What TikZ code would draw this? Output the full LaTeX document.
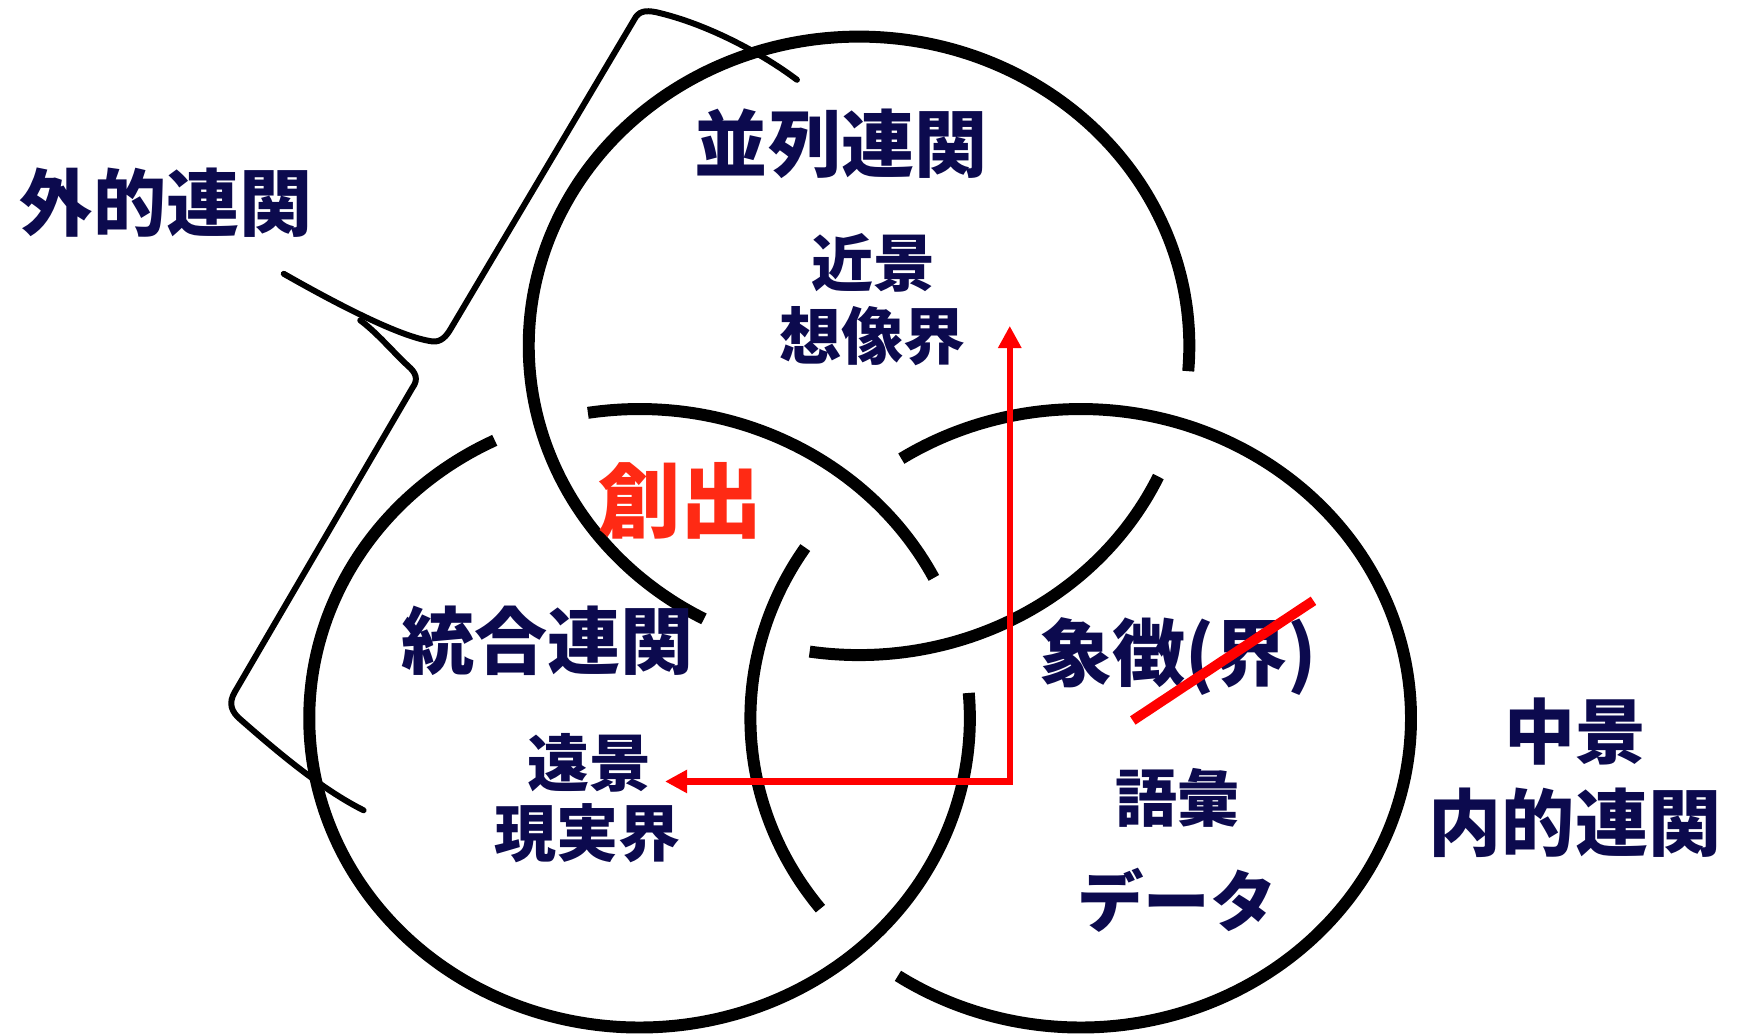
\documentclass[tikz,border=0pt]{standalone}
\usepackage{fontspec}
\newfontfamily\jp{Noto Sans CJK JP}
\usetikzlibrary{arrows.meta}
\definecolor{navy}{RGB}{12,10,78}
\definecolor{redtxt}{RGB}{255,42,20}
\begin{document}
\begin{tikzpicture}[x=0.5pt,y=-0.5pt,
  ring/.style={line width=5.4pt,line cap=butt},
  bracket/.style={line width=2.7pt,line cap=round,line join=round},
  lbl/.style={font={\jp\bfseries\fontsize{#1}{#1}\selectfont},text=navy,inner sep=0pt},
  redlbl/.style={font={\jp\bfseries\fontsize{#1}{#1}\selectfont},text=redtxt,inner sep=0pt},
  redline/.style={draw=red,line width=2.9pt},
]
\useasboundingbox[fill=white] (0,0) rectangle (1568,934);
% top ring A
\draw[ring] plot[domain=-4.7:242,samples=150,smooth] ({775+298*cos(\x)},{312-279*sin(\x)});
\draw[ring] plot[domain=261.4:335,samples=60,smooth] ({775+298*cos(\x)},{312-279*sin(\x)});
% lower-left ring B
\draw[ring] plot[domain=27:99,samples=60,smooth] ({577+298*cos(\x)},{648-279*sin(\x)});
\draw[ring] plot[domain=116:364.7,samples=150,smooth] ({577+298*cos(\x)},{648-279*sin(\x)});
% lower-right ring C
\draw[ring] plot[domain=146.5:218,samples=60,smooth] ({975+298*cos(\x)},{648-279*sin(\x)});
\draw[ring] plot[domain=236.4:482.9,samples=150,smooth] ({975+298*cos(\x)},{648-279*sin(\x)});
% bracket
\coordinate (bp) at (256,247);
\coordinate (bf) at (325,289);
\coordinate (bt) at (719,72);
\coordinate (bb) at (328,731);
\draw[bracket] (bt) .. controls (690,50) and (640,22) .. (592,11)
  .. controls (582,9) and (576,10) .. (572,18) -- (407,296)
  .. controls (403,303) and (398,309) .. (390,308)
  .. controls (360,304) and (300,272) .. (bp);
\draw[bracket] (bb) .. controls (290,712) and (250,678) .. (218,650)
  .. controls (208,642) and (206,634) .. (212,624) -- (372,350)
  .. controls (378,342) and (375,336) .. (368,330)
  .. controls (355,318) and (340,300) .. (bf);
% labels
\node[lbl=33pt] (gaiteki) at (150,183) {外的連関};
\node[lbl=33pt] (heiretsu) at (759,130) {並列連関};
\node[lbl=28pt] (kinkei) at (788,237) {近景};
\node[lbl=28pt] (souzou) at (787,303) {想像界};
\node[redlbl=37pt] (soushutsu) at (614,452) {創出};
\node[lbl=33pt] (tougou) at (494,578) {統合連関};
\node[lbl=28pt] (enkei) at (532,688) {遠景};
\node[lbl=28pt] (genjitsu) at (530,752) {現実界};
\node[lbl=33pt] (shouchou) at (1063,592) {象徴(界)};
\node[lbl=28pt] (goi) at (1062,720) {語彙};
\node[lbl=30pt] (data) at (1062,812) {データ};
\node[lbl=32pt] (chukei) at (1421,660) {中景};
\node[lbl=33pt] (naiteki) at (1421,742) {内的連関};
% red arrows
\coordinate (corner) at (911,705);
\coordinate (uptip) at (911,294);
\coordinate (lefttip) at (600,705);
\draw[redline,{Triangle[length=10pt,width=10pt]}-{Triangle[length=10pt,width=10pt]}] (uptip) -- (corner) -- (lefttip);
% strike-through
\coordinate (s1) at (1022,650);
\coordinate (s2) at (1185,542);
\draw[draw=red,line width=4.5pt] (s1) -- (s2);
\end{tikzpicture}
\end{document}
